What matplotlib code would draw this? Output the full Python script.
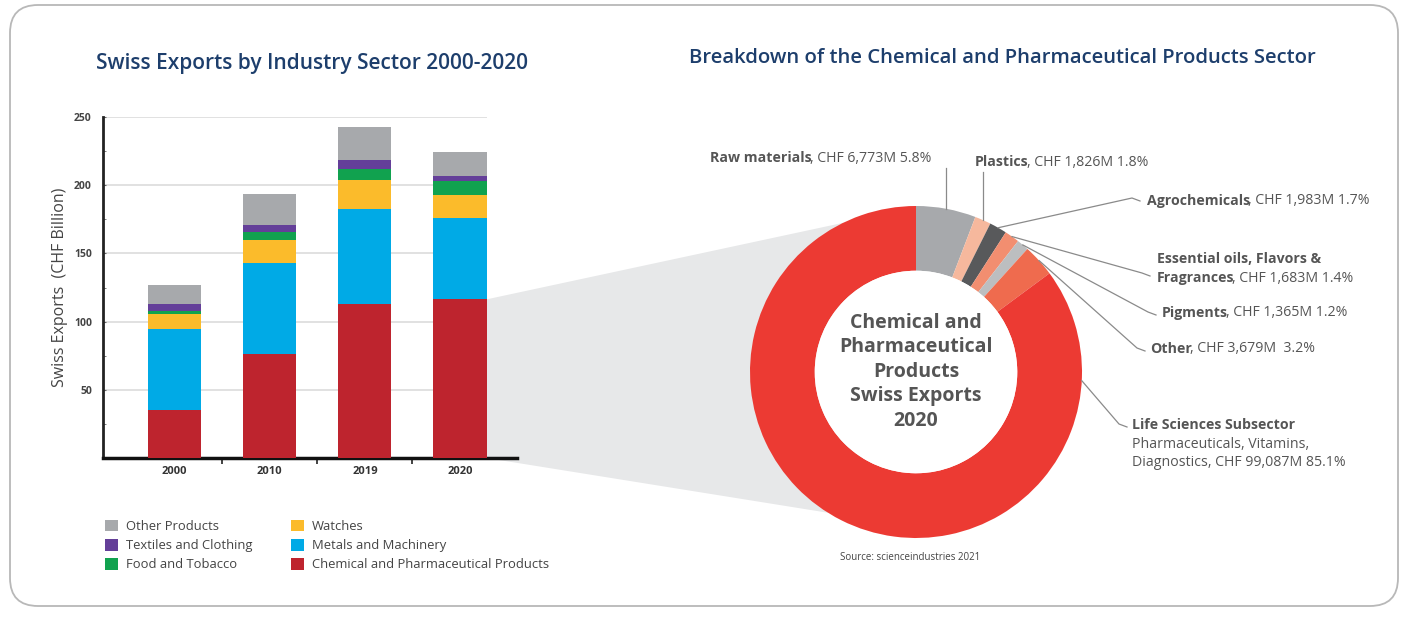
import numpy as np
import matplotlib
matplotlib.use("Agg")
import matplotlib.pyplot as plt
from matplotlib.patches import FancyBboxPatch, Polygon, Circle, Patch

plt.rcParams['font.family'] = ['Open Sans', 'DejaVu Sans']

# ---- data: stacked bars (CHF billion) ----
years = ["2000", "2010", "2019", "2020"]
chemical = [35.0, 76.0, 113.0, 116.3]
metals = [59.5, 67.0, 69.2, 60.0]
watches = [11.0, 16.5, 21.5, 16.4]
food = [2.5, 6.0, 8.3, 10.7]
textiles = [5.0, 5.0, 6.3, 3.2]
other_products = [14.0, 22.7, 24.2, 17.8]
y_ticks = [50, 100, 150, 200, 250]

# ---- data: chemical / pharma breakdown 2020 (CHF million) ----
sub_names = ["Raw materials", "Plastics", "Agrochemicals", "Essential oils",
             "Pigments", "Other", "Life Sciences"]
sub_values = [6773, 1826, 1983, 1683, 1365, 3679, 99087]
sub_colors = ["#a7a9ac", "#f6b89d", "#58595b", "#f28e70", "#bcbec0", "#ef6b4e", "#ec3a33"]

bar_colors = {
    "Other Products": "#a7a9ac",
    "Textiles and Clothing": "#643f99",
    "Food and Tobacco": "#11a24f",
    "Watches": "#fbbb2b",
    "Metals and Machinery": "#00aae6",
    "Chemical and Pharmaceutical Products": "#be242e",
}

W, H = 1410, 618
fig = plt.figure(figsize=(W / 100, H / 100), dpi=100)
fig.patch.set_facecolor("white")

def fx(x):
    return x / W

def fy(y):
    return 1 - y / H

# background overlay (pixel coords, y downwards)
bg = fig.add_axes([0, 0, 1, 1], zorder=-5)
bg.set_xlim(0, W)
bg.set_ylim(H, 0)
bg.axis("off")
bg.add_patch(FancyBboxPatch((10, 5), 1388, 601, boxstyle="round,pad=0,rounding_size=28",
                            facecolor="white", edgecolor="#b8b8b8", lw=1.3))

# ---- bar chart ----
ax = fig.add_axes([fx(103), fy(458), fx(517 - 103), (458 - 117) / H], zorder=1)
ax.set_facecolor("none")
x = np.arange(len(years))
bw = 0.56
stack = [
    ("Chemical and Pharmaceutical Products", chemical),
    ("Metals and Machinery", metals),
    ("Watches", watches),
    ("Food and Tobacco", food),
    ("Textiles and Clothing", textiles),
    ("Other Products", other_products),
]
bottom = np.zeros(len(years))
for name, vals in stack:
    ax.bar(x, vals, bw, bottom=bottom, color=bar_colors[name], zorder=3)
    bottom += np.array(vals)

ax.set_xlim(-0.753, 3.6)
ax.set_ylim(0, 250)
ax.hlines(y_ticks, -0.753, x[-1] + bw / 2, colors="#dcdcdc", lw=1.2, zorder=1)
ax.set_yticks(y_ticks)
ax.set_yticklabels([str(v) for v in y_ticks], fontsize=7.5, fontweight="bold", color="#444")
ax.set_yticks([25, 75, 125, 175, 225], minor=True)
ax.tick_params(axis="y", which="both", length=2, direction="in", color="#666", pad=8)
ax.set_xticks(x)
ax.set_xticklabels(years, fontsize=8, fontweight="bold", color="#333")
ax.set_xticks([0.5, 1.5, 2.5], minor=True)
ax.tick_params(axis="x", which="major", length=0, pad=6)
ax.tick_params(axis="x", which="minor", length=4, width=1.2, direction="out", color="#222")
for s in ["top", "right"]:
    ax.spines[s].set_visible(False)
ax.spines["left"].set_linewidth(2)
ax.spines["left"].set_color("#222")
ax.spines["bottom"].set_linewidth(2.5)
ax.spines["bottom"].set_color("#111")
ax.set_ylabel("Swiss Exports  (CHF Billion)", fontsize=11.5, color="#444", labelpad=4)

# ---- donut ----
cx, cy, R = 916, 372, 166
dax = fig.add_axes([fx(cx - R), fy(cy + R), 2 * R / W, 2 * R / H], zorder=2)
dax.set_facecolor("none")
ring = 0.39
dax.pie(sub_values, colors=sub_colors, startangle=90, counterclock=False,
        radius=1, wedgeprops=dict(width=ring, edgecolor="none"))
dax.add_patch(Circle((0, 0), 1 - ring, facecolor="white", edgecolor="none"))
dax.set_xlim(-1, 1)
dax.set_ylim(-1, 1)
dax.set_aspect("equal")
dax.axis("off")

dax.text(0, 0, "Chemical and\nPharmaceutical\nProducts\nSwiss Exports\n2020",
         ha="center", va="center", fontsize=14, fontweight="bold",
         color="#555", linespacing=1.3)

# funnel from 2020 chemical bar to donut
def disp_to_px(t, pt):
    px, py = t.transform(pt)
    return (px, H - py)

top_left = disp_to_px(ax.transData, (x[-1] + bw / 2, chemical[-1]))
bot_left = disp_to_px(ax.transData, (x[-1] + bw / 2, 0))
p_top = disp_to_px(dax.transData, (np.cos(np.radians(116)), np.sin(np.radians(116))))
p_bot = disp_to_px(dax.transData, (np.cos(np.radians(238)), np.sin(np.radians(238))))
center = disp_to_px(dax.transData, (0, 0))
bg.add_patch(Polygon([top_left, bot_left, p_bot, center, p_top],
                     closed=True, facecolor="#e7e8e9", edgecolor="none"))

# foreground overlay for labels and leader lines
fg = fig.add_axes([0, 0, 1, 1], zorder=10)
fg.set_xlim(0, W)
fg.set_ylim(H, 0)
fg.axis("off")

fig.text(fx(312), fy(63), "Swiss Exports by Industry Sector 2000-2020", ha="center",
         va="center", fontsize=15, color="#1d3e6c", fontweight="semibold")
fig.text(fx(1002), fy(58), "Breakdown of the Chemical and Pharmaceutical Products Sector",
         ha="center", va="center", fontsize=14.6, color="#1d3e6c", fontweight="semibold")
fig.text(fx(910), fy(557), "Source: scienceindustries 2021", ha="center", va="center",
         fontsize=7, color="#444")

# wedge anchor points on the outer edge
total = sum(sub_values)
angles = []
start = 90.0
for v in sub_values:
    span = 360.0 * v / total
    angles.append(start - span / 2)
    start -= span
angles[-1] = -3.0  # life sciences leader goes to the right edge

def anchor(i):
    a = np.radians(angles[i])
    return disp_to_px(dax.transData, (np.cos(a), np.sin(a)))

renderer = fig.canvas.get_renderer()
lab_fs = 10.2
lab_col = "#555"

def two_part(xp, yp, bold, rest):
    t = fg.text(xp, yp, bold, fontsize=lab_fs, fontweight="bold", color=lab_col,
                ha="left", va="center")
    bb = t.get_window_extent(renderer)
    fg.text(bb.x1 - 2, yp, rest, fontsize=lab_fs, color=lab_col, ha="left", va="center")

parts = [
    (710, 158, "Raw materials", ", CHF 6,773M 5.8%"),
    (975, 162, "Plastics", ", CHF 1,826M 1.8%"),
    (1147, 201, "Agrochemicals", ", CHF 1,983M 1.7%"),
    (1157, 278, "Fragrances", ", CHF 1,683M 1.4%"),
    (1162, 313, "Pigments", ", CHF 1,365M 1.2%"),
    (1150, 349, "Other", ", CHF 3,679M  3.2%"),
]
for xp, yp, b, r in parts:
    two_part(xp, yp, b, r)
fg.text(1157, 259, "Essential oils, Flavors &", fontsize=lab_fs, fontweight="bold",
        color=lab_col, ha="left", va="center")
fg.text(1132, 425, "Life Sciences Subsector", fontsize=lab_fs, fontweight="bold",
        color=lab_col, ha="left", va="center")
fg.text(1132, 444, "Pharmaceuticals, Vitamins,", fontsize=lab_fs, color=lab_col,
        ha="left", va="center")
fg.text(1132, 463, "Diagnostics, CHF 99,087M 85.1%", fontsize=lab_fs, color=lab_col,
        ha="left", va="center")

line_kw = dict(color="#8a8a8a", lw=0.9)
ax0 = anchor(0)
fg.plot([ax0[0], ax0[0]], [168, ax0[1]], **line_kw)
ax1 = anchor(1)
fg.plot([ax1[0], ax1[0]], [172, ax1[1]], **line_kw)
leader_starts = {2: (1140, 201), 3: (1150, 276), 4: (1156, 315), 5: (1145, 351), 6: (1127, 427)}
for i, (sx, sy) in leader_starts.items():
    a = anchor(i)
    fg.plot([sx, sx - 8, a[0]], [sy, sy - 3, a[1]], **line_kw)

# legend
order = ["Other Products", "Textiles and Clothing", "Food and Tobacco",
         "Watches", "Metals and Machinery", "Chemical and Pharmaceutical Products"]
handles = [Patch(facecolor=bar_colors[n], edgecolor="none") for n in order]
fig.legend(handles, order, ncol=2, loc="upper left", bbox_to_anchor=(fx(93), fy(508)),
           frameon=False, fontsize=9.4, labelcolor="#444", handlelength=1.0,
           handleheight=1.0, handletextpad=0.6, columnspacing=3.0, labelspacing=0.45)

fig.savefig("out.png", dpi=100, facecolor="white")
